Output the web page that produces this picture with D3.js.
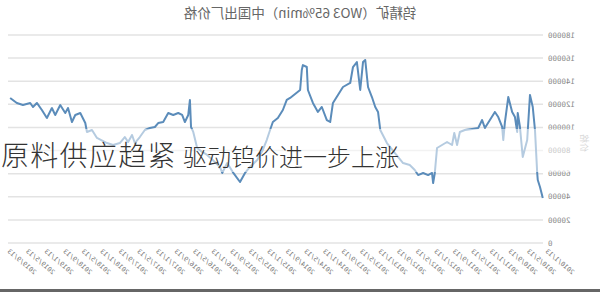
<!DOCTYPE html>
<html><head><meta charset="utf-8">
<script src="https://cdn.jsdelivr.net/npm/d3@7"></script>
<style>
html,body{margin:0;padding:0;background:#fff;}
svg{display:block;}
</style></head>
<body>
<svg id="c" width="600" height="292"></svg>
<script>
// decimal-year positions of the price points (chronological)
const times = [2010.04,2010.09,2010.13,2010.14,2010.18,2010.22,2010.27,2010.32,2010.40,2010.45,2010.49,2010.50,2010.54,2010.59,2010.66,2010.72,2010.75,2010.77,2010.84,2010.90,2010.99,2011.08,2011.13,2011.20,2011.31,2011.44,2011.53,2011.58,2011.63,2011.67,2011.76,2011.85,2011.94,2011.98,2012.01,2012.03,2012.10,2012.19,2012.28,2012.34,2012.43,2012.55,2012.70,2012.84,2012.96,2013.00,2013.05,2013.11,2013.18,2013.23,2013.27,2013.32,2013.38,2013.45,2013.50,2013.63,2013.72,2013.81,2013.86,2013.92,2014.01,2014.08,2014.17,2014.26,2014.28,2014.35,2014.37,2014.40,2014.49,2014.58,2014.64,2014.71,2014.80,2014.89,2014.94,2015.00,2015.07,2015.17,2015.30,2015.39,2015.48,2015.61,2015.71,2015.80,2015.84,2015.97,2016.07,2016.16,2016.25,2016.32,2016.36,2016.38,2016.41,2016.47,2016.52,2016.59,2016.68,2016.77,2016.86,2016.95,2017.01,2017.10,2017.19,2017.28,2017.37,2017.42,2017.49,2017.55,2017.64,2017.76,2017.87,2018.05,2018.14,2018.23,2018.26,2018.35,2018.44,2018.50,2018.57,2018.62,2018.71,2018.80,2018.86,2018.95,2019.04,2019.13,2019.20,2019.25,2019.38,2019.49,2019.61];
const prices = [39000,48500,54500,60600,97800,117700,128100,89100,74400,100400,112500,96100,109000,113400,126300,104700,89100,100400,109000,113400,106400,99500,106400,99500,98700,97800,96100,84800,95200,84800,87400,84800,82200,60600,51900,60600,58800,60600,58800,63200,67500,69200,77900,86500,97800,113400,117700,126300,135000,158400,156600,132400,156600,152300,138500,135000,128100,121200,104700,106400,117700,113400,121200,132400,152300,154000,149700,132400,128900,125500,123800,115100,108200,104700,97800,89100,80500,71800,65800,60600,52800,61400,69200,60600,65800,71800,76200,78800,82200,96100,100400,123800,110800,104700,110800,112500,110800,112500,104700,103800,100400,99500,97800,91700,86500,93500,87400,91700,86500,84800,86500,90900,97800,96100,103800,112500,110800,104700,116800,112500,119400,110800,116800,108200,115100,121200,117700,121200,119400,121200,125500];
const xLabels = [];
for (let yr = 2010; yr <= 2019; yr++) for (const m of [1,5,9]) xLabels.push(yr + "/" + m + "/13");
const yTicks = [0,20000,40000,60000,80000,100000,120000,140000,160000,180000];
const title = "钨精矿（WO3 65%min）中国出厂价格";
const yTitle = "价格";
const overlay1 = "原料供应趋紧";
const overlay2 = "驱动钨价进一步上涨";

const svg = d3.select("#c");
// the whole chart is mirrored horizontally, as in the reference
const g = svg.append("g").attr("transform","translate(600,0) scale(-1,1)");

const x = d3.scaleLinear().domain([2010, 2010 + 29/3]).range([55, 593]);
const y = d3.scaleLinear().domain([0, 180000]).range([243, 35]);

// gridlines
g.append("g").selectAll("line").data(yTicks).join("line")
  .attr("x1", 57).attr("x2", 592)
  .attr("y1", d => y(d)).attr("y2", d => y(d))
  .attr("stroke", "#e3e3e3").attr("stroke-width", 1.5);

// y labels
g.append("g").selectAll("text").data(yTicks).join("text")
  .attr("x", 52).attr("y", d => y(d)).attr("dy", "0.35em")
  .attr("text-anchor", "end")
  .attr("font-family", "DejaVu Sans Mono, monospace").attr("font-size", 7.5)
  .attr("fill", "#8a8a8a")
  .text(d => d);

// y title
g.append("text")
  .attr("transform", "translate(19,143) rotate(-90)")
  .attr("text-anchor", "middle")
  .attr("font-family", "Noto Sans CJK SC").attr("font-size", 9)
  .attr("fill", "#aaa").text(yTitle);

// x labels
g.append("g").selectAll("text").data(xLabels).join("text")
  .attr("transform", (d, i) => `translate(${x(2010 + i/3)},252) rotate(-40)`)
  .attr("text-anchor", "end")
  .attr("font-family", "DejaVu Sans Mono, monospace").attr("font-size", 6.5)
  .attr("fill", "#777")
  .text(d => d);

// title
g.append("text")
  .attr("x", 300).attr("y", 18).attr("text-anchor", "middle")
  .attr("font-family", "Noto Sans CJK SC").attr("font-size", 13.5)
  .attr("fill", "#666").text(title);

// price line
const pts = times.map((t, i) => [t, prices[i]]);
g.append("path").datum(pts)
  .attr("fill", "none").attr("stroke", "#5b8cba").attr("stroke-width", 2)
  .attr("stroke-linejoin", "round")
  .attr("d", d3.line().x(d => x(d[0])).y(d => y(d[1])));

// translucent band behind the headline
svg.append("rect").attr("x", 0).attr("y", 129).attr("width", 600).attr("height", 43)
  .attr("fill", "#fff").attr("fill-opacity", 0.55);

// headline overlay
const hl = svg.append("text").attr("y", 166)
  .attr("font-family", "Noto Sans CJK SC").attr("font-weight", 300)
  .attr("fill", "#333");
hl.append("tspan").attr("x", 1).attr("font-size", 28).attr("letter-spacing", 1.3).text(overlay1);
hl.append("tspan").attr("x", 183).attr("font-size", 24).text(overlay2);

// bottom bar
svg.append("rect").attr("x", 0).attr("y", 289).attr("width", 600).attr("height", 3).attr("fill", "#666");
</script>
</body></html>
